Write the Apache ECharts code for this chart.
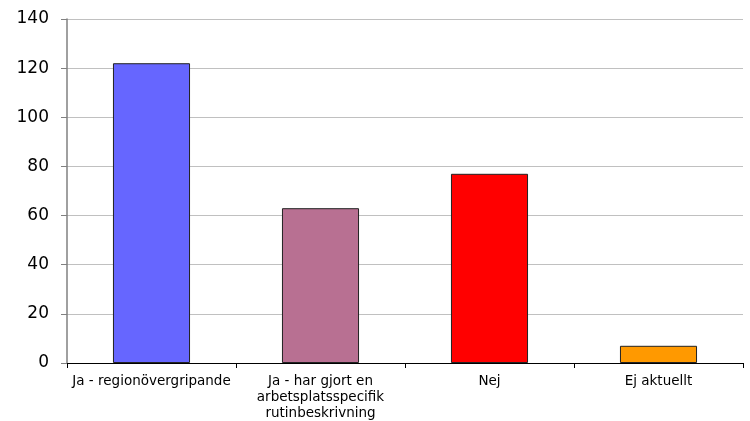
<!DOCTYPE html>
<html>
<head>
<meta charset="utf-8">
<script src="https://cdn.jsdelivr.net/npm/echarts@6/dist/echarts.min.js"></script>
<style>
  html, body { margin: 0; padding: 0; background: #fff; }
  #chart { width: 750px; height: 421px; }
</style>
</head>
<body>
<div id="chart"></div>
<script>
// Survey answers and their counts
const categories = [
  'Ja - regionövergripande',
  'Ja - har gjort en\narbetsplatsspecifik\nrutinbeskrivning',
  'Nej',
  'Ej aktuellt'
];
const counts = [122, 63, 77, 7];
const barColors = ['#6666FF', '#B87092', '#FF0000', '#FF9900'];
const yTicks = { min: 0, max: 140, interval: 20 };

const chart = echarts.init(document.getElementById('chart'), null, { renderer: 'canvas' });
chart.setOption({
  animation: false,
  grid: { left: 67, right: 7, top: 19, bottom: 57, containLabel: false },
  xAxis: {
    type: 'category',
    data: categories,
    axisLine: { show: true, lineStyle: { color: '#000', width: 1 } },
    axisTick: { show: true, alignWithLabel: false, length: 5, lineStyle: { color: '#000' } },
    axisLabel: {
      interval: 0,
      color: '#000',
      fontFamily: 'DejaVu Sans',
      fontSize: 13.5,
      lineHeight: 16,
      margin: 10
    }
  },
  yAxis: {
    type: 'value',
    min: yTicks.min,
    max: yTicks.max,
    interval: yTicks.interval,
    axisLine: { show: true, lineStyle: { color: '#808080', width: 1.5 } },
    axisTick: { show: true, length: 6, lineStyle: { color: '#808080' } },
    splitLine: { show: true, lineStyle: { color: '#c0c0c0', width: 1 } },
    axisLabel: {
      color: '#000',
      fontFamily: 'DejaVu Sans',
      fontSize: 17,
      margin: 18
    }
  },
  series: [{
    type: 'bar',
    data: counts.map((v, i) => ({ value: v, itemStyle: { color: barColors[i] } })),
    barWidth: '45.6%',
    itemStyle: { borderColor: '#222', borderWidth: 1 }
  }]
});
</script>
</body>
</html>
